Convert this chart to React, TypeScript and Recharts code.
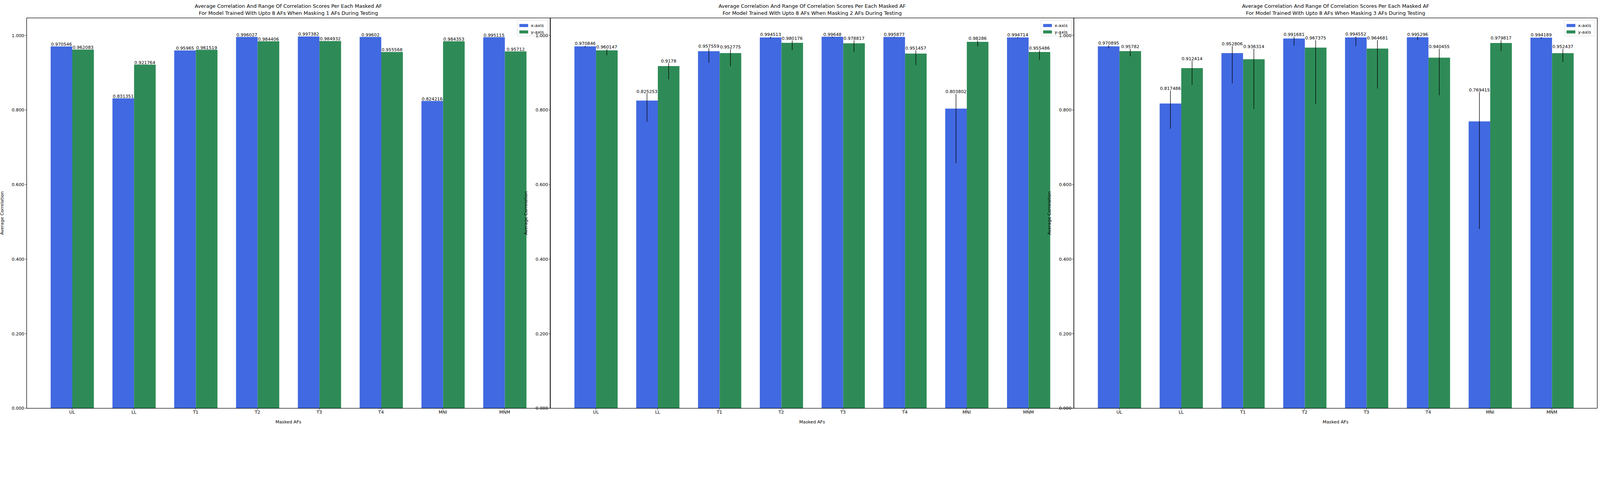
import React from "react";
import { Bar, BarChart, ErrorBar, LabelList, XAxis, YAxis } from "recharts";

const categories = ["UL", "LL", "T1", "T2", "T3", "T4", "MNI", "MNM"];
const seriesNames = ["x-axis", "y-axis"];
const yTicks = [0, 0.2, 0.4, 0.6, 0.8, 1.0];

// masking 1 AF (no visible range)
const mask1X = [0.970546, 0.831351, 0.95965, 0.996027, 0.997382, 0.99602, 0.824216, 0.995115];
const mask1Y = [0.962083, 0.921764, 0.961519, 0.984406, 0.984932, 0.955568, 0.984353, 0.95712];

// masking 2 AFs
const mask2X = [0.970846, 0.825253, 0.957559, 0.994513, 0.99648, 0.995877, 0.803802, 0.994714];
const mask2XLow = [0.9676, 0.7688, 0.9266, 0.9912, 0.9939, 0.9939, 0.6576, 0.9927];
const mask2XHigh = [0.9722, 0.8441, 0.9655, 0.9967, 0.997, 0.9963, 0.8432, 0.9958];
const mask2Y = [0.960147, 0.9178, 0.952775, 0.980176, 0.978817, 0.951457, 0.98286, 0.955486];
const mask2YLow = [0.9468, 0.8821, 0.9175, 0.961, 0.9547, 0.9202, 0.9704, 0.9338];
const mask2YHigh = [0.9634, 0.9257, 0.9628, 0.9864, 0.9864, 0.9601, 0.9864, 0.9601];

// masking 3 AFs
const mask3X = [0.970895, 0.817486, 0.952806, 0.991681, 0.994552, 0.995296, 0.769415, 0.994189];
const mask3XLow = [0.9655, 0.7498, 0.8713, 0.9728, 0.9719, 0.9882, 0.4808, 0.9912];
const mask3XHigh = [0.9737, 0.8519, 0.9716, 0.9967, 0.9973, 0.9967, 0.8483, 0.9958];
const mask3Y = [0.95782, 0.912414, 0.936314, 0.967375, 0.964681, 0.940455, 0.979817, 0.952437];
const mask3YLow = [0.9438, 0.8676, 0.8024, 0.816, 0.8577, 0.8395, 0.9583, 0.9284];
const mask3YHigh = [0.9643, 0.932, 0.9643, 0.9873, 0.9876, 0.9643, 0.9873, 0.9643];

const BLUE = "#4169e1";
const GREEN = "#2e8b57";
const FONT = "DejaVu Sans, sans-serif";

const PAGE_W = 4738;
const PAGE_H = 1261;
const PLOT_LEFT = 79;
const PLOT_W = 1550;
const PLOT_TOP = 53;
const PLOT_BOTTOM = 1208;
const Y_MAX = 1.047;
const PX_PER_UNIT = (PLOT_BOTTOM - PLOT_TOP) / Y_MAX;

function buildRows(x, y, xl?, xh?, yl?, yh?) {
  return categories.map((c, i) => ({
    name: c,
    x: x[i],
    y: y[i],
    xErr: xl ? [x[i] - xl[i], xh[i] - x[i]] : [0, 0],
    yErr: yl ? [y[i] - yl[i], yh[i] - y[i]] : [0, 0],
    xTop: xh ? xh[i] : x[i],
    yTop: yh ? yh[i] : y[i],
  }));
}

const panels = [
  { masked: 1, rows: buildRows(mask1X, mask1Y), errors: false },
  { masked: 2, rows: buildRows(mask2X, mask2Y, mask2XLow, mask2XHigh, mask2YLow, mask2YHigh), errors: true },
  { masked: 3, rows: buildRows(mask3X, mask3Y, mask3XLow, mask3XHigh, mask3YLow, mask3YHigh), errors: true },
];

function makeLabel(rows, key, topKey) {
  return (props) => {
    const { x, y, width, index, value } = props;
    const lift = (rows[index][topKey] - rows[index][key]) * PX_PER_UNIT;
    return (
      <text x={x + width / 2} y={y - lift - 2} textAnchor="middle" fontSize={13} fontFamily={FONT} fill="#000">
        {String(value)}
      </text>
    );
  };
}

function Panel({ masked, rows, errors, left }) {
  return (
    <div style={{ position: "absolute", left, top: 0, width: PLOT_LEFT + PLOT_W, height: PAGE_H }}>
      <div
        style={{
          position: "absolute",
          left: PLOT_LEFT,
          width: PLOT_W,
          top: 8,
          textAlign: "center",
          fontFamily: FONT,
          fontSize: 15,
          lineHeight: "21px",
        }}
      >
        Average Correlation And Range Of Correlation Scores Per Each Masked AF
        <br />
        For Model Trained With Upto 8 AFs When Masking {masked} AFs During Testing
      </div>
      <BarChart
        width={PLOT_LEFT + PLOT_W}
        height={PAGE_H}
        data={rows}
        margin={{ top: PLOT_TOP, right: 0, bottom: 0, left: 0 }}
        barGap={0}
        style={{ position: "absolute", left: 0, top: 0 }}
      >
        <XAxis
          dataKey="name"
          height={PAGE_H - PLOT_BOTTOM}
          padding={{ left: 43, right: 43 }}
          tick={{ fontSize: 13, fontFamily: FONT, fill: "#000" }}
          tickLine={{ stroke: "#000" }}
          axisLine={{ stroke: "#000", strokeWidth: 1.5 }}
          tickSize={5}
          label={{ value: "Masked AFs", position: "insideBottom", offset: 8, fontSize: 13, fontFamily: FONT, fill: "#000" }}
        />
        <YAxis
          width={PLOT_LEFT}
          domain={[0, Y_MAX]}
          ticks={yTicks}
          tickFormatter={(v) => v.toFixed(3)}
          tick={{ fontSize: 13, fontFamily: FONT, fill: "#000" }}
          tickLine={{ stroke: "#000" }}
          axisLine={{ stroke: "#000", strokeWidth: 1.5 }}
          tickSize={5}
          label={{ value: "Average Correlation", angle: -90, position: "insideLeft", offset: 6, fontSize: 13, fontFamily: FONT, fill: "#000", style: { textAnchor: "middle" } }}
        />
        <Bar dataKey="x" name={seriesNames[0]} fill={BLUE} barSize={64} isAnimationActive={false}>
          {errors && <ErrorBar dataKey="xErr" width={0} stroke="#000" strokeWidth={1.5} />}
          <LabelList dataKey="x" content={makeLabel(rows, "x", "xTop")} />
        </Bar>
        <Bar dataKey="y" name={seriesNames[1]} fill={GREEN} barSize={64} isAnimationActive={false}>
          {errors && <ErrorBar dataKey="yErr" width={0} stroke="#000" strokeWidth={1.5} />}
          <LabelList dataKey="y" content={makeLabel(rows, "y", "yTop")} />
        </Bar>
      </BarChart>
      <svg style={{ position: "absolute", left: PLOT_LEFT, top: PLOT_TOP, overflow: "visible" }} width={PLOT_W} height={PLOT_BOTTOM - PLOT_TOP}>
        <line x1={0} y1={0} x2={PLOT_W} y2={0} stroke="#000" strokeWidth={1.5} />
        <line x1={PLOT_W} y1={0} x2={PLOT_W} y2={PLOT_BOTTOM - PLOT_TOP} stroke="#000" strokeWidth={1.5} />
      </svg>
      <div
        style={{
          position: "absolute",
          left: PLOT_LEFT + PLOT_W - 98,
          top: 60,
          width: 91,
          height: 47,
          border: "1px solid #d9d9d9",
          borderRadius: 3,
          background: "rgba(255,255,255,0.8)",
          fontFamily: FONT,
          fontSize: 13,
          boxSizing: "border-box",
          padding: "5px 0 0 6px",
        }}
      >
        {seriesNames.map((s, i) => (
          <div key={s} style={{ display: "flex", alignItems: "center", height: 19 }}>
            <span style={{ display: "inline-block", width: 26, height: 9, background: i === 0 ? BLUE : GREEN, marginRight: 8 }} />
            {s}
          </div>
        ))}
      </div>
    </div>
  );
}

export default function App() {
  const vw = typeof window !== "undefined" ? window.innerWidth : PAGE_W;
  const scale = Math.min(1, vw / PAGE_W);
  return (
    <div
      style={{
        position: "absolute",
        left: 0,
        top: 0,
        width: PAGE_W,
        height: PAGE_H,
        background: "#fff",
        transform: scale < 1 ? `scale(${scale})` : undefined,
        transformOrigin: "0 0",
      }}
    >
      {panels.map((p, i) => (
        <Panel key={p.masked} {...p} left={i * PLOT_W + (i === 0 ? 0 : 1)} />
      ))}
    </div>
  );
}
